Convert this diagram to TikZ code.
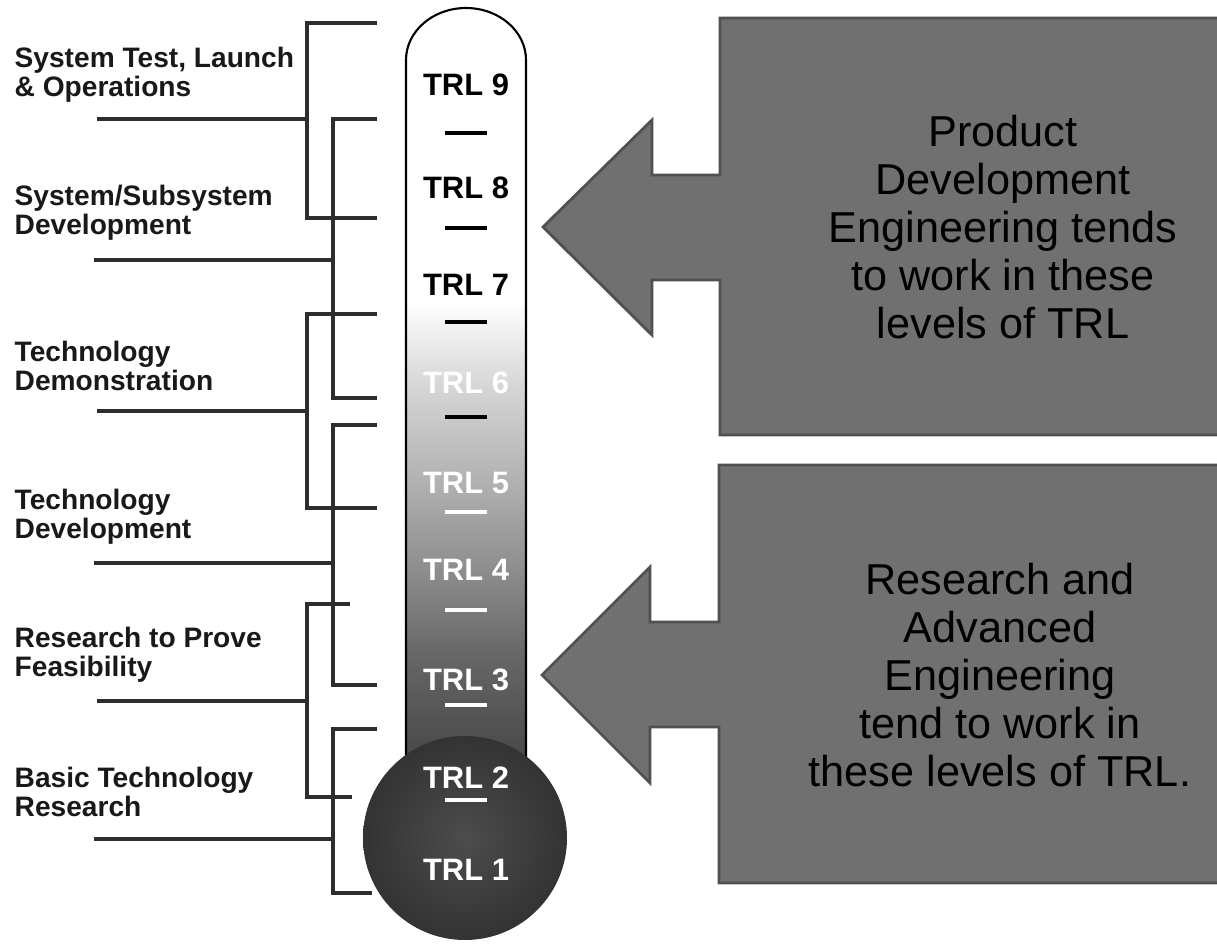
\documentclass[tikz,border=0pt]{standalone}
\usepackage{fontspec}
\setmainfont{Liberation Sans}

\definecolor{callgrey}{RGB}{112,112,112}
\definecolor{calledge}{RGB}{80,80,80}
\definecolor{linegrey}{RGB}{45,45,45}

% glass column, dark at the bulb and white towards the top
\pgfdeclareverticalshading{tubeshade}{100bp}{color(0bp)=(black!72); color(25bp)=(black!72);
  color(32bp)=(black!60); color(37.6bp)=(black!45); color(43.4bp)=(black!31);
  color(50bp)=(black!16); color(55.6bp)=(white); color(100bp)=(white)}

\begin{document}
\begin{tikzpicture}[x=0.01cm, y=-0.01cm,
    stage/.style={anchor=west, align=left, inner sep=0pt, text=black!90,
        font=\bfseries\fontsize{8}{8.2}\selectfont},
    level/.style={inner sep=0pt, font=\bfseries\fontsize{8.8}{9}\selectfont},
    notch/.style={line width=1.1pt},
    bracket/.style={draw=linegrey, line width=1.1pt},
    leader/.style={draw=linegrey},
    callout/.style={fill=callgrey, draw=calledge, line width=0.8pt},
    note/.style={align=center, inner sep=0pt, font=\fontsize{12.3}{13.7}\selectfont}]
    \useasboundingbox (0,0) rectangle (1217,948);

    % stage names on the left
    \node[stage] (s6) at (14,75)  {System Test, Launch\\\& Operations};
    \node[stage] (s5) at (14,213) {System/Subsystem\\Development};
    \node[stage] (s4) at (14,366) {Technology\\Demonstration};
    \node[stage] (s3) at (14,517) {Technology\\Development};
    \node[stage] (s2) at (14,655) {Research to Prove\\Feasibility};
    \node[stage] (s1) at (14,792) {Basic Technology\\Research};

    % brackets: id / spine x / top y / top end x / bottom y / bottom end x / leader y / leader x / width
    \foreach \id/\sx/\ty/\tx/\by/\bx/\ly/\lx/\w in {
        6/307/23/377/218/377/119/97/1.0pt,
        5/333/119/377/398/377/260/94/1.4pt,
        4/307/314/377/508/377/411/97/1.0pt,
        3/333/425/377/685/377/563/94/1.4pt,
        2/307/604/350/797/352/701/97/1.0pt,
        1/333/729/377/893/372/839/94/1.4pt}
    {
        \coordinate (top\id) at (\tx,\ty);
        \coordinate (bot\id) at (\bx,\by);
        \coordinate (in\id) at (\lx,\ly);
        \draw[bracket] (top\id) -- (\sx,\ty) -- (\sx,\by) -- (bot\id);
        \draw[leader, line width=\w] (in\id) -- (\sx,\ly);
    }

    % thermometer
    \shadedraw[shading=tubeshade, draw=black, line width=0.6pt]
        (406,762) -- (406,60) arc[start angle=180, end angle=360, x radius=60, y radius=52] -- (526,762);
    \shade[inner color=black!70, outer color=black!80] (465,838) circle[radius=102];

    % readiness levels
    \foreach \n/\y in {9/85, 8/188, 7/285}
        \node[level] (trl\n) at (466,\y) {TRL \n};
    \foreach \n/\y in {6/383, 5/483, 4/570, 3/680, 2/778, 1/870}
        \node[level, text=white] (trl\n) at (466,\y) {TRL \n};
    \foreach \y in {133, 228, 322, 417}
        \draw[notch] (445,\y) -- (487,\y);
    \foreach \y in {512, 610, 705, 800}
        \draw[notch, white] (445,\y) -- (487,\y);

    % arrows pointing at the column
    \draw[callout] (1222,18) -- (720,18) -- (720,175) -- (652,175) -- (652,120) -- (543,227)
        -- (652,335) -- (652,280) -- (720,280) -- (720,435) -- (1222,435) -- cycle;
    \node[note] (pde) at (1003,227)
        {Product\\Development\\Engineering tends\\to work in these\\levels of TRL};

    \draw[callout] (1222,465) -- (719,465) -- (719,622) -- (650,622) -- (650,567) -- (542,675)
        -- (650,783) -- (650,727) -- (719,727) -- (719,883) -- (1222,883) -- cycle;
    \node[note] (rae) at (1000,675)
        {Research and\\Advanced\\Engineering\\tend to work in\\these levels of TRL.};
\end{tikzpicture}
\end{document}
